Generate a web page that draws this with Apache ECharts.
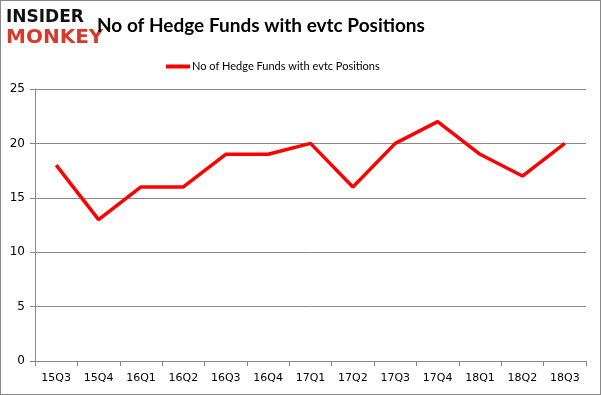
<!DOCTYPE html>
<html><head><meta charset="utf-8">
<script src="https://cdn.jsdelivr.net/npm/echarts@6/dist/echarts.min.js"></script>
<style>html,body{margin:0;padding:0;background:#fff}#c{width:601px;height:395px;box-sizing:border-box;border:1px solid #888}</style>
</head><body><div id="c"></div>
<script>
const categories = ['15Q3','15Q4','16Q1','16Q2','16Q3','16Q4','17Q1','17Q2','17Q3','17Q4','18Q1','18Q2','18Q3'];
const funds = [18,13,16,16,19,19,20,16,20,22,19,17,20];
const seriesName = 'No of Hedge Funds with evtc Positions';
const titleText = 'No of Hedge Funds with evtc Positions';
const yTicks = [0,5,10,15,20,25];

const chart = echarts.init(document.getElementById('c'));
chart.setOption({
  animation: false,
  graphic: [
    {type:'text', left: 5, top: 8, style:{text:'INSIDER', font:'900 17px "DejaVu Sans"', fill:'#111'}},
    {type:'text', left: 5, top: 27, style:{text:'MONKEY', font:'900 20px "DejaVu Sans"', fill:'#d63a2a'}},
    {type:'text', left: 96, top: 15, style:{text:titleText, font:'bold 19px Lato', fill:'#000'}}
  ],
  legend: {
    top: 55, left: 160, itemWidth: 24, itemHeight: 4, itemGap: 0,
    icon: 'rect',
    textStyle: {fontSize: 11, fontFamily: 'Lato', color: '#000', padding:[0,0,0,-3]},
    data: [seriesName]
  },
  grid: {left: 34, right: 14, top: 88, bottom: 33, containLabel: false},
  xAxis: {
    type: 'category', data: categories, boundaryGap: true,
    axisLine: {lineStyle: {color: '#888'}},
    axisTick: {show: true, length: 5, lineStyle: {color: '#888'}},
    axisLabel: {fontSize: 11, color: '#000', fontFamily: '"DejaVu Sans"', margin: 12}
  },
  yAxis: {
    type: 'value', min: yTicks[0], max: yTicks[yTicks.length-1], interval: 5,
    axisLine: {show: true, lineStyle: {color: '#888'}},
    axisTick: {show: true, length: 5, lineStyle: {color: '#888'}},
    splitLine: {lineStyle: {color: '#888'}},
    axisLabel: {fontSize: 12, color: '#000', fontFamily: '"DejaVu Sans"', margin: 10}
  },
  series: [{
    name: seriesName, type: 'line', data: funds,
    symbol: 'none', lineStyle: {color: '#ff0000', width: 3.5}, itemStyle: {color: '#ff0000'}
  }]
});
</script></body></html>
